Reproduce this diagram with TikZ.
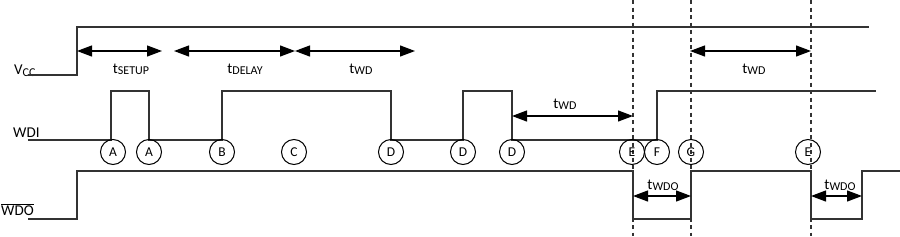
\documentclass[tikz,border=0pt]{standalone}
\usepackage{fontspec}
\setmainfont{Carlito}
\usetikzlibrary{arrows.meta}
\newcommand{\tsb}[1]{t\raisebox{-1.5pt}{\fontsize{12}{12}\selectfont #1}}
\tikzset{
  sig/.style={line width=1.4pt, draw=black!80, line join=miter},
  dimarrow/.style={line width=1.2pt, draw=black, {Triangle[length=15pt,width=11pt]}-{Triangle[length=15pt,width=11pt]}},
  guide/.style={line width=1.2pt, draw=black!80, dash pattern=on 4pt off 3.5pt},
  evt/.style={circle, draw=black, line width=1pt, minimum size=25pt, inner sep=0pt, font=\fontsize{13.5}{13.5}\selectfont},
  lbl/.style={anchor=base, inner sep=0pt, font=\fontsize{15}{15}\selectfont},
  sname/.style={anchor=base west, inner sep=0pt, font=\fontsize{15}{15}\selectfont}
}
\begin{document}
\begin{tikzpicture}[x=1pt,y=-1pt]
\useasboundingbox (0,0) rectangle (900,236);

% signal names
\node[sname] (vcc) at (14,74) {V\raisebox{-2.5pt}{\fontsize{12}{12}\selectfont CC}};
\node[sname] (wdi) at (13,137) {WDI};
\node[sname] (wdo) at (1,215) {$\overline{\hbox{WDO}}$};

% guides
\draw[guide] (633,0) -- (633,236);
\draw[guide] (691,0) -- (691,236);
\draw[guide] (811,0) -- (811,236);

% waveforms
\draw[sig] (28,75) -- (77,75) -- (77,27) -- (869,27);
\draw[sig] (28,140) -| (111,91) -| (149,140) -| (222,91) -| (391,140) -| (463,91) -| (512,140) -| (657,91) -- (876,91);
\draw[sig] (28,219) -| (77,171) -| (633,219) -| (691,171) -| (811,219) -| (862,171) -- (900,171);

% dimension coordinates
\coordinate (s1) at (77,51);  \coordinate (s2) at (162,51);
\coordinate (d1) at (174,51); \coordinate (d2) at (295,51);
\coordinate (w1) at (295,51); \coordinate (w2) at (415,51);
\coordinate (r1) at (690,51); \coordinate (r2) at (811,51);
\coordinate (m1) at (512,116); \coordinate (m2) at (633,116);
\coordinate (o1) at (633,196); \coordinate (o2) at (691,196);
\coordinate (p1) at (811,196); \coordinate (p2) at (862,196);

\draw[dimarrow] (s1) -- (s2);
\draw[dimarrow] (d1) -- (d2);
\draw[dimarrow] (w1) -- (w2);
\draw[dimarrow] (r1) -- (r2);
\draw[dimarrow] (m1) -- (m2);
\draw[dimarrow] (o1) -- (o2);
\draw[dimarrow] (p1) -- (p2);

% dimension labels
\node[lbl] (lsetup) at (131,73) {\tsb{SETUP}};
\node[lbl] (ldelay) at (245,73) {\tsb{DELAY}};
\node[lbl] (lwd1) at (361,73) {\tsb{WD}};
\node[lbl] (lwd2) at (565,108) {\tsb{WD}};
\node[lbl] (lwd3) at (754,73) {\tsb{WD}};
\node[lbl] (lwdo1) at (663,189) {\tsb{WDO}};
\node[lbl] (lwdo2) at (840,189) {\tsb{WDO}};

% events
\node[evt] (a1) at (113,152) {A};
\node[evt] (a2) at (149,152) {A};
\node[evt] (b1) at (222,152) {B};
\node[evt] (c1) at (294,152) {C};
\node[evt] (d1n) at (391,152) {D};
\node[evt] (d2n) at (463,152) {D};
\node[evt] (d3n) at (512,152) {D};
\node[evt] (e1) at (632,152) {E};
\node[evt] (f1) at (657,152) {F};
\node[evt] (g1) at (691,152) {G};
\node[evt] (e2) at (808,152) {E};
\end{tikzpicture}
\end{document}
